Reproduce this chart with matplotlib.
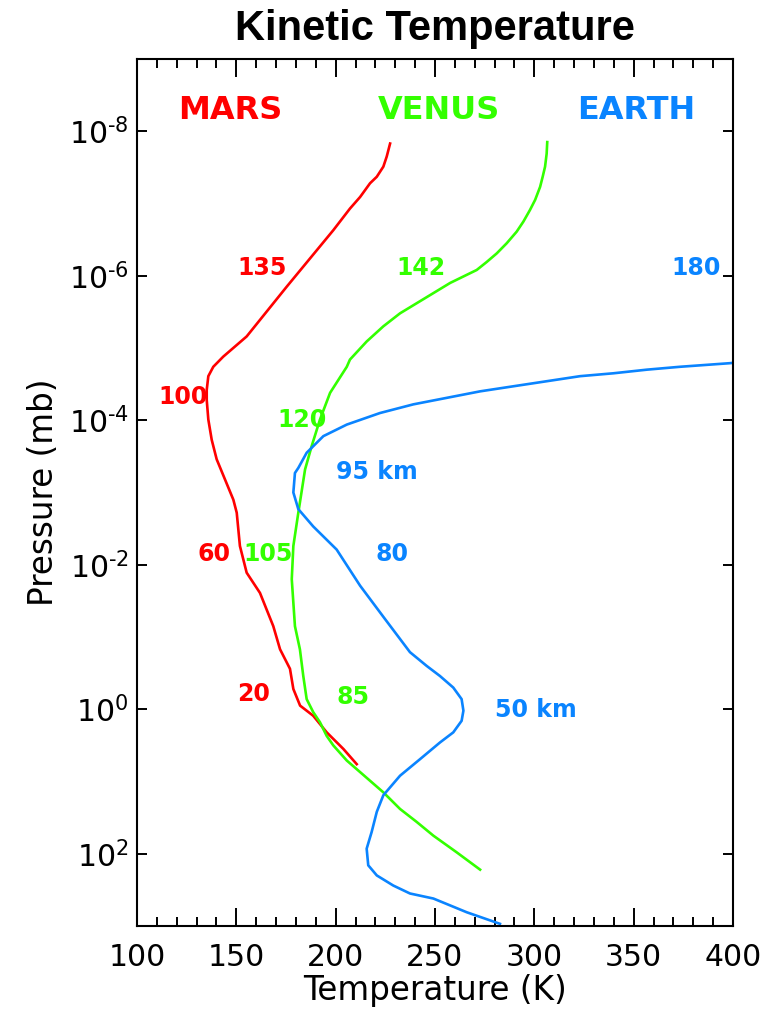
import numpy as np
import matplotlib
matplotlib.use("Agg")
import matplotlib.pyplot as plt
from matplotlib.ticker import MultipleLocator, FixedLocator, FixedFormatter

# temperature (K) and log10 of pressure (mb)
mars_temp = [227.4, 225.7, 224.0, 220.7, 217.3, 212.3, 207.2, 198.8, 175.4, 155.2,
             143.4, 138.4, 135.9, 135.1, 135.1, 135.9, 137.6, 140.1, 144.3, 148.5,
             150.2, 151.8, 155.2, 161.9, 168.6, 172.0, 177.0, 178.7, 182.1, 188.7,
             195.5, 203.9, 210.6]
mars_logp = [-7.83, -7.65, -7.51, -7.37, -7.28, -7.09, -6.93, -6.63, -5.85, -5.16,
             -4.88, -4.74, -4.61, -4.42, -4.28, -4.01, -3.73, -3.46, -3.18, -2.90,
             -2.72, -2.26, -1.89, -1.61, -1.15, -0.83, -0.56, -0.28, -0.05, 0.09,
             0.32, 0.55, 0.76]

venus_temp = [306.5, 306.2, 305.4, 304.2, 302.9, 300.4, 297.8, 294.5, 291.1, 286.1,
              281.1, 276.0, 271.0, 264.3, 257.6, 249.2, 240.8, 232.4, 224.0, 215.6,
              207.2, 205.6, 197.2, 192.1, 187.9, 184.6, 181.2, 178.7, 177.9, 179.5,
              182.0, 183.7, 185.4, 188.7, 192.1, 195.5, 198.8, 205.6, 212.3, 224.0,
              232.4, 240.8, 249.2, 260.9, 272.7]
venus_logp = [-7.85, -7.69, -7.51, -7.37, -7.23, -7.05, -6.91, -6.75, -6.61, -6.45,
              -6.31, -6.19, -6.08, -5.99, -5.90, -5.76, -5.62, -5.48, -5.30, -5.09,
              -4.84, -4.74, -4.38, -4.01, -3.64, -3.32, -2.72, -2.26, -1.80, -1.15,
              -0.83, -0.46, -0.14, 0.04, 0.18, 0.37, 0.50, 0.71, 0.87, 1.15,
              1.38, 1.56, 1.75, 1.98, 2.22]

earth_temp = [402.0, 398.5, 373.3, 356.6, 339.8, 323.0, 306.2, 289.4, 272.7, 255.9,
              239.1, 222.3, 205.6, 193.8, 185.4, 181.2, 179.5, 178.7, 181.2, 188.7,
              200.5, 212.3, 224.8, 237.4, 245.8, 252.5, 259.2, 263.4, 264.3, 263.4,
              259.2, 252.5, 242.5, 232.4, 224.0, 220.7, 218.1, 215.6, 216.4, 220.7,
              229.0, 237.4, 249.2, 266.0, 282.7]
earth_logp = [-4.80, -4.79, -4.74, -4.70, -4.65, -4.61, -4.54, -4.47, -4.40, -4.31,
              -4.22, -4.10, -3.94, -3.78, -3.55, -3.34, -3.27, -3.00, -2.77, -2.53,
              -2.21, -1.71, -1.25, -0.79, -0.60, -0.46, -0.30, -0.14, 0.02, 0.16,
              0.32, 0.46, 0.69, 0.92, 1.19, 1.42, 1.70, 1.93, 2.16, 2.30,
              2.44, 2.55, 2.62, 2.81, 2.97]

# planet names and altitude annotations (text, temp, pressure)
planet_names = ["MARS", "VENUS", "EARTH"]
planet_name_temp = [120.6, 221.3, 321.5]
mars_notes = [("135", 163.0, 7.8e-7), ("100", 123.2, 4.7e-5), ("60", 138.8, 7.2e-3), ("20", 158.9, 0.62)]
venus_notes = [("142", 243.0, 7.8e-7), ("120", 183.0, 9.8e-5), ("105", 166.0, 7.2e-3), ("85", 208.7, 0.68)]
earth_notes = [("180", 381.4, 7.8e-7), ("95 km", 220.8, 5.2e-4), ("80", 228.4, 7.2e-3), ("50 km", 300.9, 1.02)]

ytick_vals = [1e-8, 1e-6, 1e-4, 1e-2, 1e0, 1e2]
ytick_text = [r"$10^{\text{-}8}$", r"$10^{\text{-}6}$", r"$10^{\text{-}4}$",
              r"$10^{\text{-}2}$", r"$10^{0}$", r"$10^{2}$"]

red = "#ff0000"
green = "#33ff00"
blue = "#0a84ff"

plt.rcParams["font.family"] = "DejaVu Sans"
plt.rcParams["mathtext.default"] = "regular"

fig = plt.figure(figsize=(7.66, 10.16), dpi=100)
ax = fig.add_axes([137 / 766, 1 - 926 / 1016, 596 / 766, 867 / 1016])

ax.plot(mars_temp, 10.0 ** np.array(mars_logp), color=red, lw=1.9)
ax.plot(venus_temp, 10.0 ** np.array(venus_logp), color=green, lw=1.9)
ax.plot(earth_temp, 10.0 ** np.array(earth_logp), color=blue, lw=1.9)

ax.set_yscale("log")
ax.set_xlim(100, 400)
ax.set_ylim(1e3, 1e-9)

ax.xaxis.set_major_locator(MultipleLocator(50))
ax.xaxis.set_minor_locator(MultipleLocator(10))
ax.yaxis.set_major_locator(FixedLocator(ytick_vals))
ax.yaxis.set_major_formatter(FixedFormatter(ytick_text))
ax.yaxis.set_minor_locator(FixedLocator([]))

ax.tick_params(axis="x", which="major", direction="in", top=True, length=13, width=1.4,
               labelsize=21.5, pad=12)
ax.tick_params(axis="x", which="minor", direction="in", top=True, length=6.5, width=1.4)
ax.tick_params(axis="y", which="major", direction="in", right=True, length=7.5, width=1.4,
               labelsize=21.5, pad=6)
for s in ax.spines.values():
    s.set_linewidth(1.5)

ax.set_xlabel("Temperature (K)", fontsize=23.5, labelpad=2)
ax.set_ylabel("Pressure (mb)", fontsize=23.5, labelpad=6)
ax.set_title("Kinetic Temperature", fontsize=30, fontweight="bold",
             family="Liberation Sans", pad=14)

for name, t, c in zip(planet_names, planet_name_temp, [red, green, blue]):
    ax.text(t, 5.1e-9, name, color=c, fontsize=23, fontweight="bold", ha="left", va="center")

for notes, c in [(mars_notes, red), (venus_notes, green), (earth_notes, blue)]:
    for txt, t, p in notes:
        ax.text(t, p, txt, color=c, fontsize=17, fontweight="bold", ha="center", va="center")

fig.savefig("out.png", dpi=100)
